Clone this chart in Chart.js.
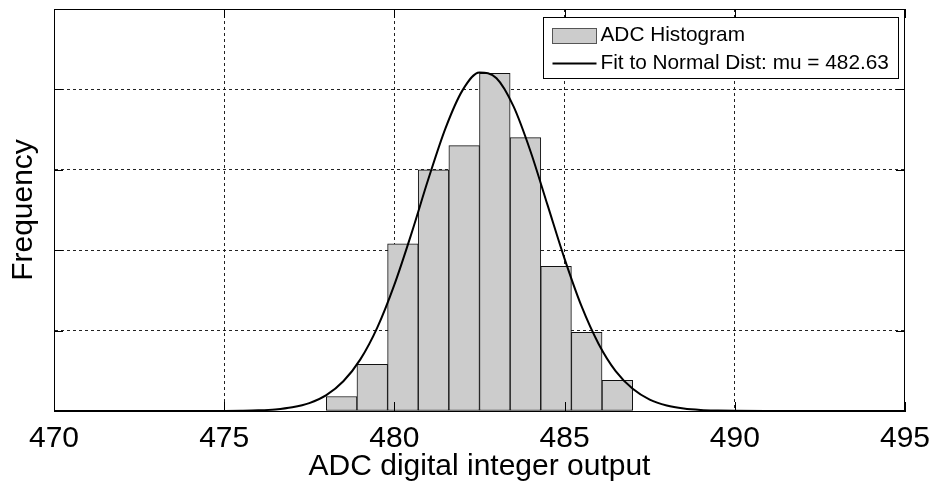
<!DOCTYPE html>
<html>
<head>
<meta charset="utf-8">
<script src="https://cdn.jsdelivr.net/npm/chart.js@4.4.0/dist/chart.umd.min.js"></script>
<style>
  html, body { margin: 0; padding: 0; background: #fff; }
</style>
</head>
<body>
<canvas id="histChart" width="932" height="482"></canvas>
<script>
// histogram: 10 bins between 478 and 487
var binCenters = [478.45, 479.35, 480.25, 481.15, 482.05, 482.95, 483.85, 484.75, 485.65, 486.55];
var binCounts = [9, 29, 104, 150, 165, 210, 170, 90, 49, 19];

// fitted normal curve
var fitX = [470, 473, 474, 474.5, 475, 475.5, 476, 476.5, 477, 477.5, 478, 478.5, 479, 479.5, 480, 480.5,
            481, 481.5, 482, 482.5, 483, 483.5, 484, 484.5, 485, 485.5, 486, 486.5, 487, 487.5, 488, 488.5,
            489, 489.5, 490, 491, 492, 495];
var fitY = [0, 0, 0.01, 0.02, 0.05, 0.15, 0.39, 0.97, 2.3, 4.9, 9.9, 18.5, 32.1, 52.0, 78.6, 110.3,
            144.4, 175.8, 199.4, 210.5, 206.9, 189.4, 161.4, 128.0, 94.6, 65.0, 41.7, 24.8, 13.8, 7.1, 3.4, 1.5,
            0.6, 0.25, 0.09, 0.01, 0, 0];

var xTicks = [470, 475, 480, 485, 490, 495];
var yTicks = [0, 50, 100, 150, 200, 250];

var fontFam = '"Liberation Sans", Arial, Helvetica, sans-serif';

var gridColor = function(ctx) {
  var s = ctx.scale;
  if (ctx.tick && (ctx.tick.value === s.min || ctx.tick.value === s.max)) return 'rgba(0,0,0,0)';
  return '#222';
};

// box around the plot + short inside tick marks
var framePlugin = {
  id: 'frame',
  afterDatasetsDraw: function(chart) {
    var a = chart.chartArea, c = chart.ctx;
    var xs = chart.scales.x, ys = chart.scales.y;
    c.save();
    c.strokeStyle = '#000';
    c.lineWidth = 1;
    c.strokeRect(a.left + 0.5, a.top + 0.5, a.right - a.left - 1, a.bottom - a.top);
    c.beginPath();
    xs.ticks.forEach(function(t) {
      var px = Math.round(xs.getPixelForValue(t.value)) + 0.5;
      c.moveTo(px, a.top); c.lineTo(px, a.top + 9);
      c.moveTo(px, a.bottom); c.lineTo(px, a.bottom - 9);
    });
    ys.ticks.forEach(function(t) {
      var py = Math.round(ys.getPixelForValue(t.value)) + 0.5;
      c.moveTo(a.left, py); c.lineTo(a.left + 9, py);
      c.moveTo(a.right, py); c.lineTo(a.right - 9, py);
    });
    c.stroke();
    c.restore();
  }
};

// legend with a border, top right inside the plot
var legendPlugin = {
  id: 'boxLegend',
  afterDraw: function(chart) {
    var a = chart.chartArea, c = chart.ctx;
    var ds = chart.data.datasets;
    var items = [ds[1], ds[0]];
    c.save();
    c.font = '20.8px ' + fontFam;
    var textW = 0;
    items.forEach(function(d) { textW = Math.max(textW, c.measureText(d.label).width); });
    var swW = 44, pad = 9, gap = 4;
    var boxW = Math.round(pad + swW + gap + textW + 10);
    var boxH = 61;
    var x0 = Math.round(a.right - 7 - boxW) + 0.5, y0 = Math.round(a.top + 8) + 0.5;
    c.fillStyle = '#fff';
    c.fillRect(x0, y0, boxW, boxH);
    c.strokeStyle = '#000';
    c.lineWidth = 1;
    c.strokeRect(x0, y0, boxW, boxH);
    var r1 = y0 + 18, r2 = y0 + 46;
    // row 1: histogram swatch
    c.fillStyle = items[0].backgroundColor;
    c.fillRect(x0 + pad, r1 - 7, swW, 15);
    c.strokeStyle = '#555';
    c.strokeRect(x0 + pad, r1 - 7, swW, 15);
    // row 2: line
    c.strokeStyle = '#000';
    c.lineWidth = 2;
    c.beginPath();
    c.moveTo(x0 + pad, r2); c.lineTo(x0 + pad + swW, r2);
    c.stroke();
    c.fillStyle = '#000';
    c.textBaseline = 'middle';
    c.textAlign = 'left';
    c.fillText(items[0].label, x0 + pad + swW + gap, r1);
    c.fillText(items[1].label, x0 + pad + swW + gap, r2);
    c.restore();
  }
};

var ctx = document.getElementById('histChart').getContext('2d');
var histChart = new Chart(ctx, {
  type: 'bar',
  data: {
    datasets: [{
      type: 'line',
      label: 'Fit to Normal Dist: mu = 482.63',
      data: fitX.map(function(x, i) { return { x: x, y: fitY[i] }; }),
      borderColor: '#000',
      borderWidth: 2,
      pointRadius: 0,
      fill: false,
      cubicInterpolationMode: 'monotone',
      order: 0
    }, {
      type: 'bar',
      label: 'ADC Histogram',
      data: binCenters.map(function(x, i) { return { x: x, y: binCounts[i] }; }),
      backgroundColor: '#cccccc',
      borderColor: '#111',
      borderWidth: 1,
      borderSkipped: false,
      barPercentage: 1,
      categoryPercentage: 1,
      order: 1
    }]
  },
  options: {
    responsive: false,
    animation: false,
    layout: { padding: { top: 9, right: 27, left: 0, bottom: 0 } },
    plugins: {
      legend: { display: false },
      tooltip: { enabled: false }
    },
    scales: {
      x: {
        type: 'linear',
        min: 470,
        max: 495,
        offset: false,
        afterBuildTicks: function(s) { s.ticks = xTicks.map(function(v) { return { value: v }; }); },
        afterFit: function(s) { s.height = 71; s.paddingLeft = 0; s.paddingRight = 0; },
        grid: { color: gridColor, lineWidth: 1, drawTicks: false, offset: false },
        border: { display: true, color: '#000', dash: [3, 3] },
        ticks: { color: '#000', font: { family: fontFam, size: 30 }, padding: 10, maxRotation: 0 },
        title: { display: true, text: 'ADC digital integer output', color: '#000',
                 font: { family: fontFam, size: 30, lineHeight: 1 }, padding: { top: 0, bottom: 0 } }
      },
      y: {
        min: 0,
        max: 250,
        afterBuildTicks: function(s) { s.ticks = yTicks.map(function(v) { return { value: v }; }); },
        afterFit: function(s) { s.width = 54; s.paddingTop = 0; s.paddingBottom = 0; },
        grid: { color: gridColor, lineWidth: 1, drawTicks: false },
        border: { display: true, color: '#000', dash: [3, 3] },
        ticks: { display: false },
        title: { display: true, text: 'Frequency', color: '#000',
                 font: { family: fontFam, size: 30, lineHeight: 1 }, padding: { top: 9, bottom: 0 } }
      }
    }
  },
  plugins: [framePlugin, legendPlugin]
});
</script>
</body>
</html>
